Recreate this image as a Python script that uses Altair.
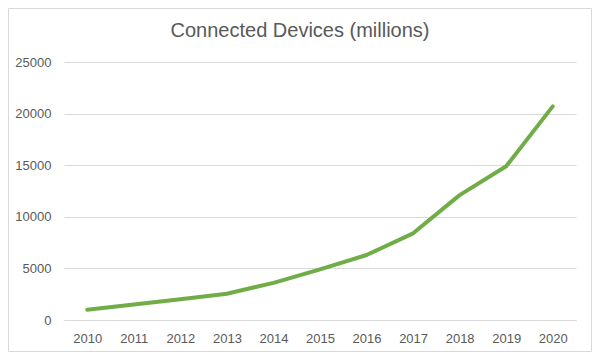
import altair as alt
import pandas as pd

years = ["2010", "2011", "2012", "2013", "2014", "2015", "2016", "2017", "2018", "2019", "2020"]
devices = [1000, 1500, 2000, 2550, 3600, 4900, 6300, 8400, 12100, 14900, 20700]
y_ticks = [0, 5000, 10000, 15000, 20000, 25000]
title_text = "Connected Devices (millions)"

df = pd.DataFrame({"year": years, "devices": devices})

W, H = 512, 258
PL, PT, PR, PB = 56, 54, 16, 32

line = alt.Chart(df).mark_line(color="#70AD47", strokeWidth=4, strokeCap="round", strokeJoin="round").encode(
    x=alt.X("year:O", sort=years, title=None,
            scale=alt.Scale(type="point", padding=0.5),
            axis=alt.Axis(labelAngle=0, ticks=False, domainColor="#d9d9d9", domainWidth=1,
                          labelColor="#595959", labelFontSize=13, labelFont="Liberation Sans",
                          labelPadding=12, grid=False)),
    y=alt.Y("devices:Q", title=None,
            scale=alt.Scale(domain=[0, 25000], nice=False),
            axis=alt.Axis(values=y_ticks, ticks=False, domain=False, gridColor="#d9d9d9",
                          gridWidth=1, labelColor="#595959", labelFontSize=13,
                          labelFont="Liberation Sans", labelPadding=13, format="d")),
)

title = alt.Chart(pd.DataFrame({"t": [title_text]})).mark_text(
    font="Liberation Sans", fontSize=20, color="#595959", align="center", baseline="alphabetic"
).encode(
    text="t:N",
    x=alt.value(300 - 64),
    y=alt.value(37 - 62),
)

border = alt.Chart(pd.DataFrame({"a": [0]})).mark_rect(
    fill=None, stroke="#d9d9d9", strokeWidth=1, clip=False
).encode(
    x=alt.value(-PL + 0.5),
    x2=alt.value(W + PR - 0.5),
    y=alt.value(-PT + 0.5),
    y2=alt.value(H + PB - 0.5),
)

chart = alt.layer(border, line, title).properties(
    width=W, height=H,
    autosize=alt.AutoSizeParams(type="none"),
    padding={"left": PL, "top": PT, "right": PR, "bottom": PB},
    background="white",
).configure_view(stroke=None)

chart.save("out.html", embed_options={"renderer": "svg", "actions": False})
